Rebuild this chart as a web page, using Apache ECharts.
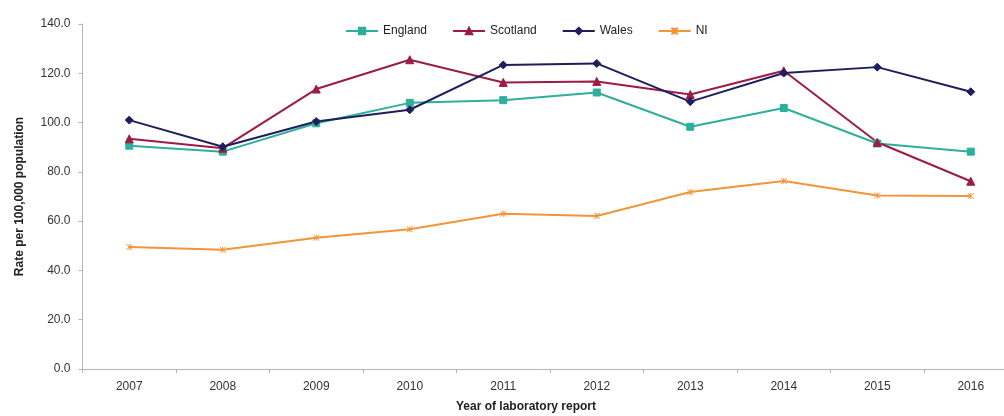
<!DOCTYPE html>
<html>
<head>
<meta charset="utf-8">
<script src="https://cdn.jsdelivr.net/npm/echarts@6/dist/echarts.min.js"></script>
<style>
  html, body { margin: 0; padding: 0; background: #fff; }
  #main { width: 1004px; height: 416px; }
</style>
</head>
<body>
<div id="main"></div>
<script>
// data
var years = ['2007', '2008', '2009', '2010', '2011', '2012', '2013', '2014', '2015', '2016'];
var england  = [90.6, 88.2, 99.7, 108.0, 109.1, 112.2, 98.3, 105.9, 91.5, 88.2];
var scotland = [93.4, 89.6, 113.6, 125.5, 116.3, 116.7, 111.4, 121.0, 92.0, 76.2];
var wales    = [101.0, 90.2, 100.4, 105.2, 123.4, 124.0, 108.5, 120.1, 122.5, 112.5];
var ni       = [49.5, 48.4, 53.3, 56.7, 63.0, 62.1, 71.8, 76.3, 70.4, 70.2];

var font = 'Liberation Sans, Arial, sans-serif';

function line(name, data, color, symbol, size) {
  return {
    name: name,
    type: 'line',
    data: data,
    symbol: symbol,
    symbolSize: size,
    lineStyle: { color: color, width: 2 },
    itemStyle: { color: color, borderColor: color, borderWidth: 1 },
    emphasis: { disabled: true }
  };
}

var chart = echarts.init(document.getElementById('main'));
chart.setOption({
  animation: false,
  textStyle: { fontFamily: font },
  legend: {
    top: 20,
    left: 340,
    itemWidth: 32,
    itemHeight: 8,
    itemGap: 25,
    textStyle: { fontSize: 12, color: '#222', fontFamily: font },
    data: ['England', 'Scotland', 'Wales', 'NI']
  },
  grid: {
    left: 82.5,
    width: 935,
    top: 24,
    bottom: 47,
    outerBoundsMode: 'none'
  },
  xAxis: {
    type: 'category',
    data: years,
    boundaryGap: true,
    axisLine: { lineStyle: { color: '#b5b5b5', width: 1 } },
    axisTick: { show: true, length: 4, lineStyle: { color: '#b5b5b5' } },
    axisLabel: { color: '#333', fontSize: 12, margin: 12, fontFamily: font }
  },
  yAxis: {
    type: 'value',
    min: 0,
    max: 140,
    interval: 20,
    name: 'Rate per 100,000 population',
    nameLocation: 'middle',
    nameGap: 57,
    nameTextStyle: { color: '#222', fontSize: 12, fontWeight: 'bold', fontFamily: font },
    axisLine: { show: true, lineStyle: { color: '#b5b5b5', width: 1 } },
    axisTick: { show: true, length: 4, lineStyle: { color: '#b5b5b5' } },
    splitLine: { show: false },
    axisLabel: {
      color: '#333', fontSize: 12, margin: 12, fontFamily: font,
      formatter: function (v) { return v.toFixed(1); }
    }
  },
  graphic: [{
    type: 'text',
    left: 456,
    top: 401,
    style: {
      text: 'Year of laboratory report',
      fill: '#222',
      font: 'bold 12px ' + font
    }
  }],
  series: [
    line('England', england, '#2eaf9b', 'rect', 7),
    line('Scotland', scotland, '#9b1c45', 'triangle', 8),
    line('Wales', wales, '#1e1e5c', 'diamond', 8),
    line('NI', ni, '#f0953a', 'path://M0,0L10,10M10,0L0,10M5,0L5,10', 6)
  ]
});
</script>
</body>
</html>
